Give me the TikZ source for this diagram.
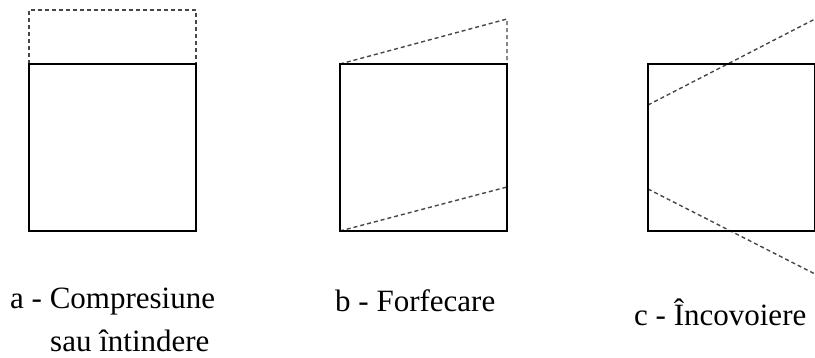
\documentclass[tikz,border=0pt]{standalone}
\usepackage{fontspec}
\setmainfont{Liberation Serif}
\begin{document}
\begin{tikzpicture}[x=1pt,y=-1pt,
  solidbox/.style={draw=black,line width=1.7pt},
  dashline/.style={draw=black!72,line width=1.4pt,dash pattern=on 4pt off 3pt},
  label/.style={anchor=base west,inner sep=0pt,font=\fontsize{31}{36}\selectfont}]
\useasboundingbox (0,0) rectangle (815,358);
% a
\coordinate (a1) at (29,64); \coordinate (a2) at (196,231);
\draw[dashline] (29,64) -- (29,10) -- (196,10) -- (196,64);
\draw[solidbox] (a1) rectangle (a2);
% b
\coordinate (b1) at (340,64); \coordinate (b2) at (507,231);
\draw[dashline] (340,64) -- (507,19) -- (507,64);
\draw[dashline] (340,231) -- (507,187);
\draw[solidbox] (b1) rectangle (b2);
% c
\coordinate (c1) at (648,64); \coordinate (c2) at (815,231);
\draw[dashline] (648,105) -- (815,19);
\draw[dashline] (648,189) -- (815,274);
\draw[solidbox] (c1) rectangle (c2);
% labels
\node[label] (la) at (10,309) {a - Compresiune};
\node[label] (la2) at (50,352) {sau întindere};
\node[label] (lb) at (335,312) {b - Forfecare};
\node[label] (lc) at (634,326) {c - Încovoiere};
\end{tikzpicture}
\end{document}
